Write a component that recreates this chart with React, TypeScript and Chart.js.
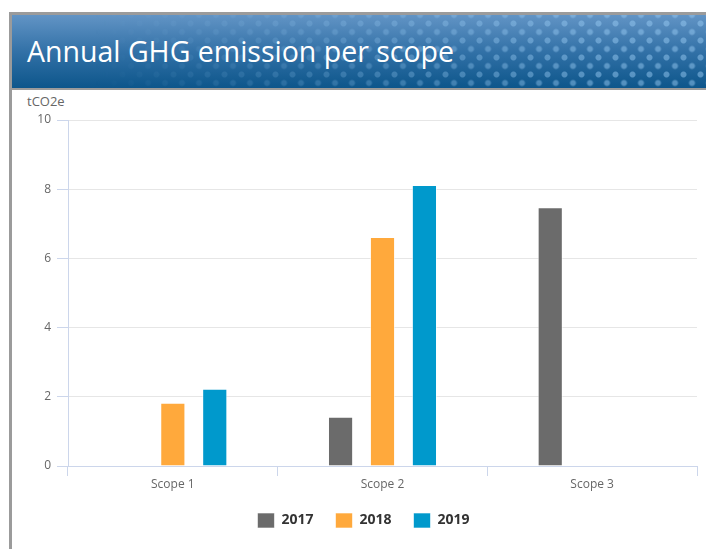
import React, { useEffect, useRef } from "react";
import { Chart, registerables } from "chart.js";

Chart.register(...registerables);

const categories = ["Scope 1", "Scope 2", "Scope 3"];
const years = ["2017", "2018", "2019"];
const values2017: (number | null)[] = [null, 1.42, 7.48];
const values2018: (number | null)[] = [1.83, 6.62, null];
const values2019: (number | null)[] = [2.23, 8.12, null];
const colors = ["#6b6b6b", "#ffa93c", "#0099cc"];
const yTicks = [0, 2, 4, 6, 8, 10];

const FONT = "'Open Sans', 'Noto Sans', sans-serif";

const legendShift = {
  id: "legendShift",
  afterLayout(chart: any) {
    const lg = chart.legend;
    if (lg) {
      lg.left += 9;
      lg.right += 9;
    }
  },
};

export default function App() {
  const ref = useRef<HTMLCanvasElement | null>(null);

  useEffect(() => {
    if (!ref.current) return;
    const series = [values2017, values2018, values2019];
    const chart = new Chart(ref.current, {
      type: "bar",
      plugins: [legendShift],
      data: {
        labels: categories,
        datasets: years.map((y, i) => ({
          label: y,
          data: series[i],
          backgroundColor: colors[i],
          borderColor: "rgba(255,255,255,0.6)",
          borderWidth: 1,
          barPercentage: 0.6,
          categoryPercentage: 0.6,
        })),
      },
      options: {
        animation: false,
        responsive: false,
        maintainAspectRatio: false,
        layout: { padding: { top: 30, right: 9, bottom: 11, left: 0 } },
        plugins: {
          tooltip: { enabled: false },
          legend: {
            position: "bottom",
            labels: {
              boxWidth: 17,
              boxHeight: 15,
              padding: 22,
              color: "#333333",
              font: { family: FONT, size: 14, weight: "bold" },
            },
          },
        },
        scales: {
          x: {
            grid: {
              display: true,
              drawOnChartArea: false,
              drawTicks: true,
              tickLength: 10,
              color: "#ccd6eb",
              offset: true,
            },
            border: { display: true, color: "#ccd6eb" },
            ticks: {
              color: "#666666",
              padding: 1,
              font: { family: FONT, size: 12 },
            },
            afterFit: (s: any) => {
              s.height = 25;
            },
          },
          y: {
            min: 0,
            max: 10,
            afterBuildTicks: (s: any) => {
              s.ticks = yTicks.map((v) => ({ value: v }));
            },
            grid: {
              color: (c: any) => (c.tick && c.tick.value === 0 ? "#ccd6eb" : "#e6e6e6"),
              tickColor: "#ccd6eb",
              tickLength: 11,
              lineWidth: 1,
            },
            border: { display: true, color: "#ccd6eb" },
            ticks: {
              color: "#666666",
              padding: 6,
              font: { family: FONT, size: 12 },
            },
            afterFit: (s: any) => {
              s.width = 56;
            },
          },
        },
      },
    });
    return () => chart.destroy();
  }, []);

  return (
    <div
      style={{
        position: "fixed",
        left: 0,
        top: 0,
        width: 706,
        height: 549,
        background: "#ffffff",
        overflow: "hidden",
        fontFamily: FONT,
      }}
    >
      <div
        style={{
          position: "absolute",
          left: 9,
          top: 12,
          width: 697,
          height: 537,
          borderLeft: "3px solid #9b9b9b",
          borderTop: "3px solid #9b9b9b",
          boxSizing: "border-box",
        }}
      />
      <div
        style={{
          position: "absolute",
          left: 12,
          top: 15,
          width: 694,
          height: 73,
          background: "linear-gradient(to bottom, #6294c5 0%, #3271a7 50%, #0d568b 100%)",
          borderBottom: "2px solid #9b9b9b",
          boxSizing: "content-box",
          overflow: "hidden",
        }}
      >
        <div
          style={{
            position: "absolute",
            inset: 0,
            backgroundImage:
              "radial-gradient(circle, rgba(150,200,240,0.5) 2.5px, rgba(150,200,240,0) 3.5px), radial-gradient(circle, rgba(150,200,240,0.5) 2.5px, rgba(150,200,240,0) 3.5px)",
            backgroundSize: "17px 17px, 17px 17px",
            backgroundPosition: "0px 0px, 8.5px 8.5px",
            WebkitMaskImage: "linear-gradient(to right, rgba(0,0,0,0) 12%, rgba(0,0,0,0.6) 55%, rgba(0,0,0,1) 85%)",
            maskImage: "linear-gradient(to right, rgba(0,0,0,0) 12%, rgba(0,0,0,0.6) 55%, rgba(0,0,0,1) 85%)",
          }}
        />
        <div
          style={{
            position: "absolute",
            left: 15,
            top: 0,
            height: 73,
            lineHeight: "73px",
            color: "#ffffff",
            fontSize: 28.5,
            fontWeight: 400,
            whiteSpace: "nowrap",
          }}
        >
          Annual GHG emission per scope
        </div>
      </div>
      <div
        style={{
          position: "absolute",
          left: 27,
          top: 92,
          fontSize: 13,
          color: "#666666",
          lineHeight: "18px",
        }}
      >
        tCO2e
      </div>
      <canvas
        ref={ref}
        width={694}
        height={459}
        style={{ position: "absolute", left: 12, top: 90, width: 694, height: 459 }}
      />
    </div>
  );
}
